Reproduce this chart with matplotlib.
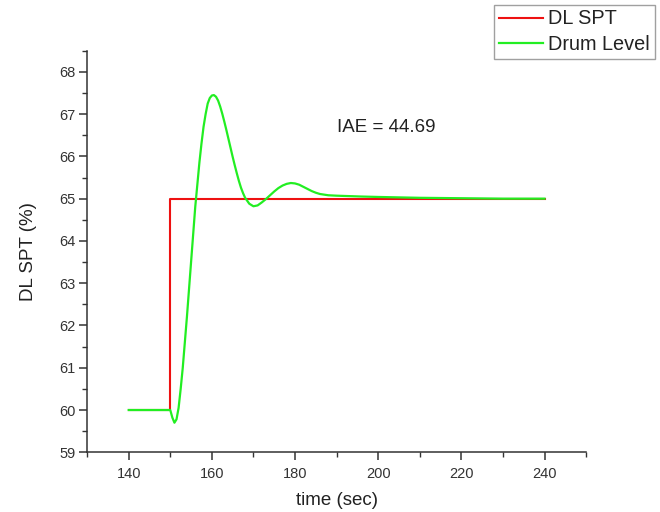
import matplotlib
matplotlib.use('Agg')
import matplotlib.pyplot as plt
from matplotlib.ticker import MultipleLocator

plt.rcParams['font.family'] = ['Liberation Sans', 'DejaVu Sans']

# setpoint (step at t = 150 s)
spt_time = [140, 150, 150, 240]
spt_value = [60, 60, 65, 65]

# drum level response
level_time = [140, 150, 150.5, 151, 151.5, 152, 152.5, 153, 154, 155, 156,
              157, 157.5, 158, 158.5, 159, 159.5, 160, 160.5, 161, 161.5,
              162, 162.5, 163, 163.5, 164, 164.5, 165, 165.5, 166, 166.5, 167, 167.5,
              168, 169, 170, 171, 172,
              173, 174, 175, 176, 177, 178, 179, 180, 181, 182, 183, 184,
              185, 186, 188, 190, 193, 196, 200, 210, 220, 230, 240]
level_value = [60.0, 60.0, 59.82, 59.70, 59.78, 60.05, 60.5, 61.0, 62.2, 63.5, 64.8,
               65.85, 66.3, 66.7, 67.0, 67.25, 67.38, 67.44, 67.45, 67.41, 67.32,
               67.18, 67.01, 66.82, 66.62, 66.41, 66.2, 65.99, 65.79, 65.6, 65.42, 65.26, 65.13,
               65.02, 64.88, 64.82, 64.84, 64.91,
               64.99, 65.08, 65.17, 65.25, 65.31, 65.35, 65.37, 65.36, 65.33, 65.28, 65.23, 65.18,
               65.14, 65.11, 65.08, 65.07, 65.06, 65.05, 65.04, 65.02, 65.01, 65.0, 65.0]

iae_text = 'IAE = 44.69'


def main():
    fig = plt.figure(figsize=(6.6, 5.12), dpi=100)
    ax = fig.add_axes([0.132, 0.1166, 0.756, 0.7844])

    l1, = ax.plot(spt_time, spt_value, color='#ee1111', lw=1.5, label='DL SPT')
    l2, = ax.plot(level_time, level_value, color='#22ee22', lw=1.6, label='Drum Level')

    ax.set_xlim(130, 250)
    ax.set_ylim(59, 68.5)
    ax.xaxis.set_major_locator(MultipleLocator(20))
    ax.xaxis.set_minor_locator(MultipleLocator(10))
    ax.yaxis.set_major_locator(MultipleLocator(1))
    ax.yaxis.set_minor_locator(MultipleLocator(0.5))
    # only 140..240 carry labels
    ax.set_xticks([140, 160, 180, 200, 220, 240])

    for side in ['top', 'right']:
        ax.spines[side].set_visible(False)
    for side in ['left', 'bottom']:
        ax.spines[side].set_color('#333333')
        ax.spines[side].set_linewidth(1.1)

    ax.tick_params(which='major', direction='out', length=6, width=1.1,
                   color='#333333', labelsize=10.5, labelcolor='#333333', pad=2.5)
    ax.tick_params(axis='x', which='major', pad=4.5)
    ax.tick_params(which='minor', direction='out', length=3.5, width=1.0,
                   color='#333333')

    ax.set_xlabel('time (sec)', fontsize=13.5, color='#222222', labelpad=8)
    ax.set_ylabel('DL SPT (%)', fontsize=13.5, color='#222222', labelpad=16)

    ax.text(190.1, 66.69, iae_text, fontsize=13.5, color='#222222',
            ha='left', va='center')

    leg = fig.legend(handles=[l1, l2], loc='upper right',
                     bbox_to_anchor=(655 / 660, 1 - 4.5 / 512),
                     fontsize=14.3, frameon=True, fancybox=False,
                     handlelength=2.25, handletextpad=0.25, borderpad=0.25,
                     labelspacing=0.35, borderaxespad=0)
    leg.get_frame().set_edgecolor('#888888')
    leg.get_frame().set_linewidth(1.0)
    for t in leg.get_texts():
        t.set_color('#222222')

    fig.savefig('out.png', dpi=100)


if __name__ == '__main__':
    main()
